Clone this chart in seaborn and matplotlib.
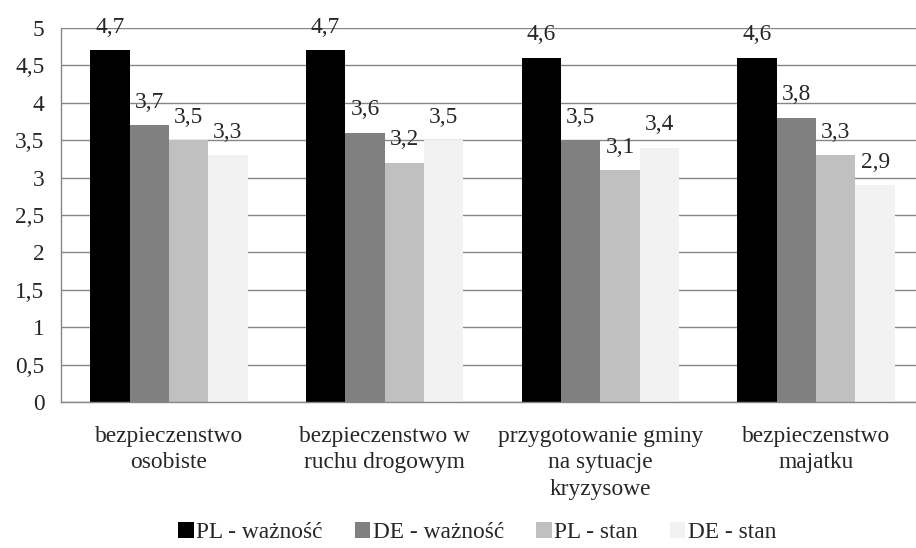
import pandas as pd
import numpy as np
import seaborn as sns
import matplotlib.pyplot as plt
from matplotlib.patches import Patch

# data
categories = ["bezpieczenstwo\nosobiste",
              "bezpieczenstwo w\nruchu drogowym",
              "przygotowanie gminy\nna sytuacje\nkryzysowe",
              "bezpieczenstwo\nmajatku"]
series = ["PL - ważność", "DE - ważność", "PL - stan", "DE - stan"]
pl_waznosc = [4.7, 4.7, 4.6, 4.6]
de_waznosc = [3.7, 3.6, 3.5, 3.8]
pl_stan = [3.5, 3.2, 3.1, 3.3]
de_stan = [3.3, 3.5, 3.4, 2.9]
colors = ["#000000", "#808080", "#c0c0c0", "#f2f2f2"]

df = pd.DataFrame({
    "kategoria": categories * 4,
    "seria": np.repeat(series, 4),
    "wartosc": pl_waznosc + de_waznosc + pl_stan + de_stan,
})

sns.set_style("white")
plt.rcParams['font.family'] = ['Liberation Serif', 'DejaVu Serif']
fs = 16.8
plt.rcParams['font.size'] = fs

fig = plt.figure(figsize=(9.16, 5.48), dpi=100)
ax = fig.add_axes([61/916, 146/548, 863/916, 374/548])

sns.barplot(data=df, x="kategoria", y="wartosc", hue="seria",
            palette=colors, width=0.73, order=categories, hue_order=series,
            edgecolor="none", linewidth=0, ax=ax, legend=False)

for cont in ax.containers:
    ax.bar_label(cont, fmt=lambda v: f"{v:.1f}".replace('.', ','),
                 padding=9, fontsize=fs)

ax.set_ylim(0, 5)
ax.set_xlim(-0.5, 3.5)
yt = np.arange(0, 5.01, 0.5)
ax.set_yticks(yt)
ax.set_yticklabels([f"{v:g}".replace('.', ',') for v in yt])
ax.yaxis.grid(True, color="#868686", linewidth=1)
ax.set_axisbelow(True)

ax.set_xticks(range(4))
ax.set_xticklabels(categories, linespacing=1.35)
ax.set_xticks([-0.5, 0.5, 1.5, 2.5], minor=True)
ax.tick_params(axis='x', which='major', length=0, pad=17, labelsize=fs)
ax.tick_params(axis='x', which='minor', length=5, color="#868686", direction='out')
ax.tick_params(axis='y', length=5, color="#868686", direction='out', pad=7, labelsize=fs)
ax.set_xlabel("")
ax.set_ylabel("")

for s in ["top", "right"]:
    ax.spines[s].set_visible(False)
for s in ["left", "bottom"]:
    ax.spines[s].set_color("#868686")
    ax.spines[s].set_linewidth(1)

handles = [Patch(facecolor=c, edgecolor="none") for c in colors]
fig.legend(handles, series, loc="lower center", bbox_to_anchor=(0.521, -0.03),
           ncol=4, frameon=False, fontsize=fs, handlelength=0.65,
           handleheight=0.65, handletextpad=0.1, columnspacing=1.4)

plt.savefig("out.png", dpi=100)
